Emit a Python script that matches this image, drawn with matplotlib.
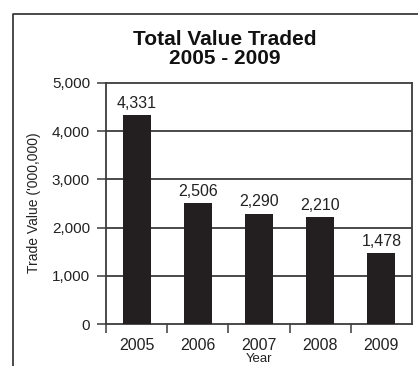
import matplotlib
matplotlib.use('Agg')
import matplotlib.pyplot as plt
from matplotlib.lines import Line2D

years = ['2005', '2006', '2007', '2008', '2009']
values = [4331, 2506, 2290, 2210, 1478]
value_labels = ['4,331', '2,506', '2,290', '2,210', '1,478']
yticks = [0, 1000, 2000, 3000, 4000, 5000]
ytick_labels = ['0', '1,000', '2,000', '3,000', '4,000', '5,000']

sans = ['Liberation Sans Narrow', 'Liberation Sans', 'DejaVu Sans']
line_col = '#3c3c3c'
bar_col = '#231f20'

fig = plt.figure(figsize=(4.18, 3.66), dpi=100)
ax = fig.add_axes([106 / 418, 1 - 324 / 366, 306 / 418, 241 / 366])

x = list(range(len(years)))
ax.bar(x, values, width=0.46, color=bar_col, zorder=3)
for xi, v, lab in zip(x, values, value_labels):
    ax.annotate(lab, (xi, v), xytext=(0, 3), textcoords='offset points',
                ha='center', va='bottom', fontsize=11.5, family=sans,
                color='#222222')

# horizontal rules behind the bars
for t in yticks[1:-1]:
    ax.axhline(t, color=line_col, lw=1.3, zorder=1)

ax.set_xlim(-0.5, 4.5)
ax.set_ylim(0, 5000)
ax.set_yticks(yticks)
ax.set_yticklabels(ytick_labels, family=sans, fontsize=11, color='#222222')
ax.set_xticks(x)
ax.set_xticklabels(years, family=sans, fontsize=11.5, color='#222222')
ax.set_xticks([-0.5, 0.5, 1.5, 2.5, 3.5], minor=True)
ax.tick_params(axis='x', which='major', length=0, pad=10)
ax.tick_params(axis='x', which='minor', length=6.5, width=1.1, color=line_col)
ax.tick_params(axis='y', length=6.5, width=1.1, color=line_col, pad=5)

for s in ax.spines.values():
    s.set_color(line_col)
    s.set_linewidth(1.3)

fig.text(225 / 418, 1 - 49 / 366, 'Total Value Traded\n2005 - 2009',
         ha='center', va='center', fontsize=15, fontweight='bold',
         family=['Liberation Sans', 'DejaVu Sans'], linespacing=1.0,
         color='#111111')
fig.text(34 / 418, 1 - 203 / 366, "Trade Value ('000,000)", rotation=90,
         ha='center', va='center', fontsize=10, family=sans, color='#222222')
fig.text(259 / 418, 1 - 359 / 366, 'Year', ha='center', va='center',
         fontsize=9.5, family=sans, color='#222222')

# outer frame, open at the right and bottom
fig.add_artist(Line2D([13 / 418, 13 / 418, 1.02], [-0.02, 1 - 14 / 366, 1 - 14 / 366],
                      transform=fig.transFigure, color=line_col, lw=1.3))

fig.savefig('out.png', dpi=100)
